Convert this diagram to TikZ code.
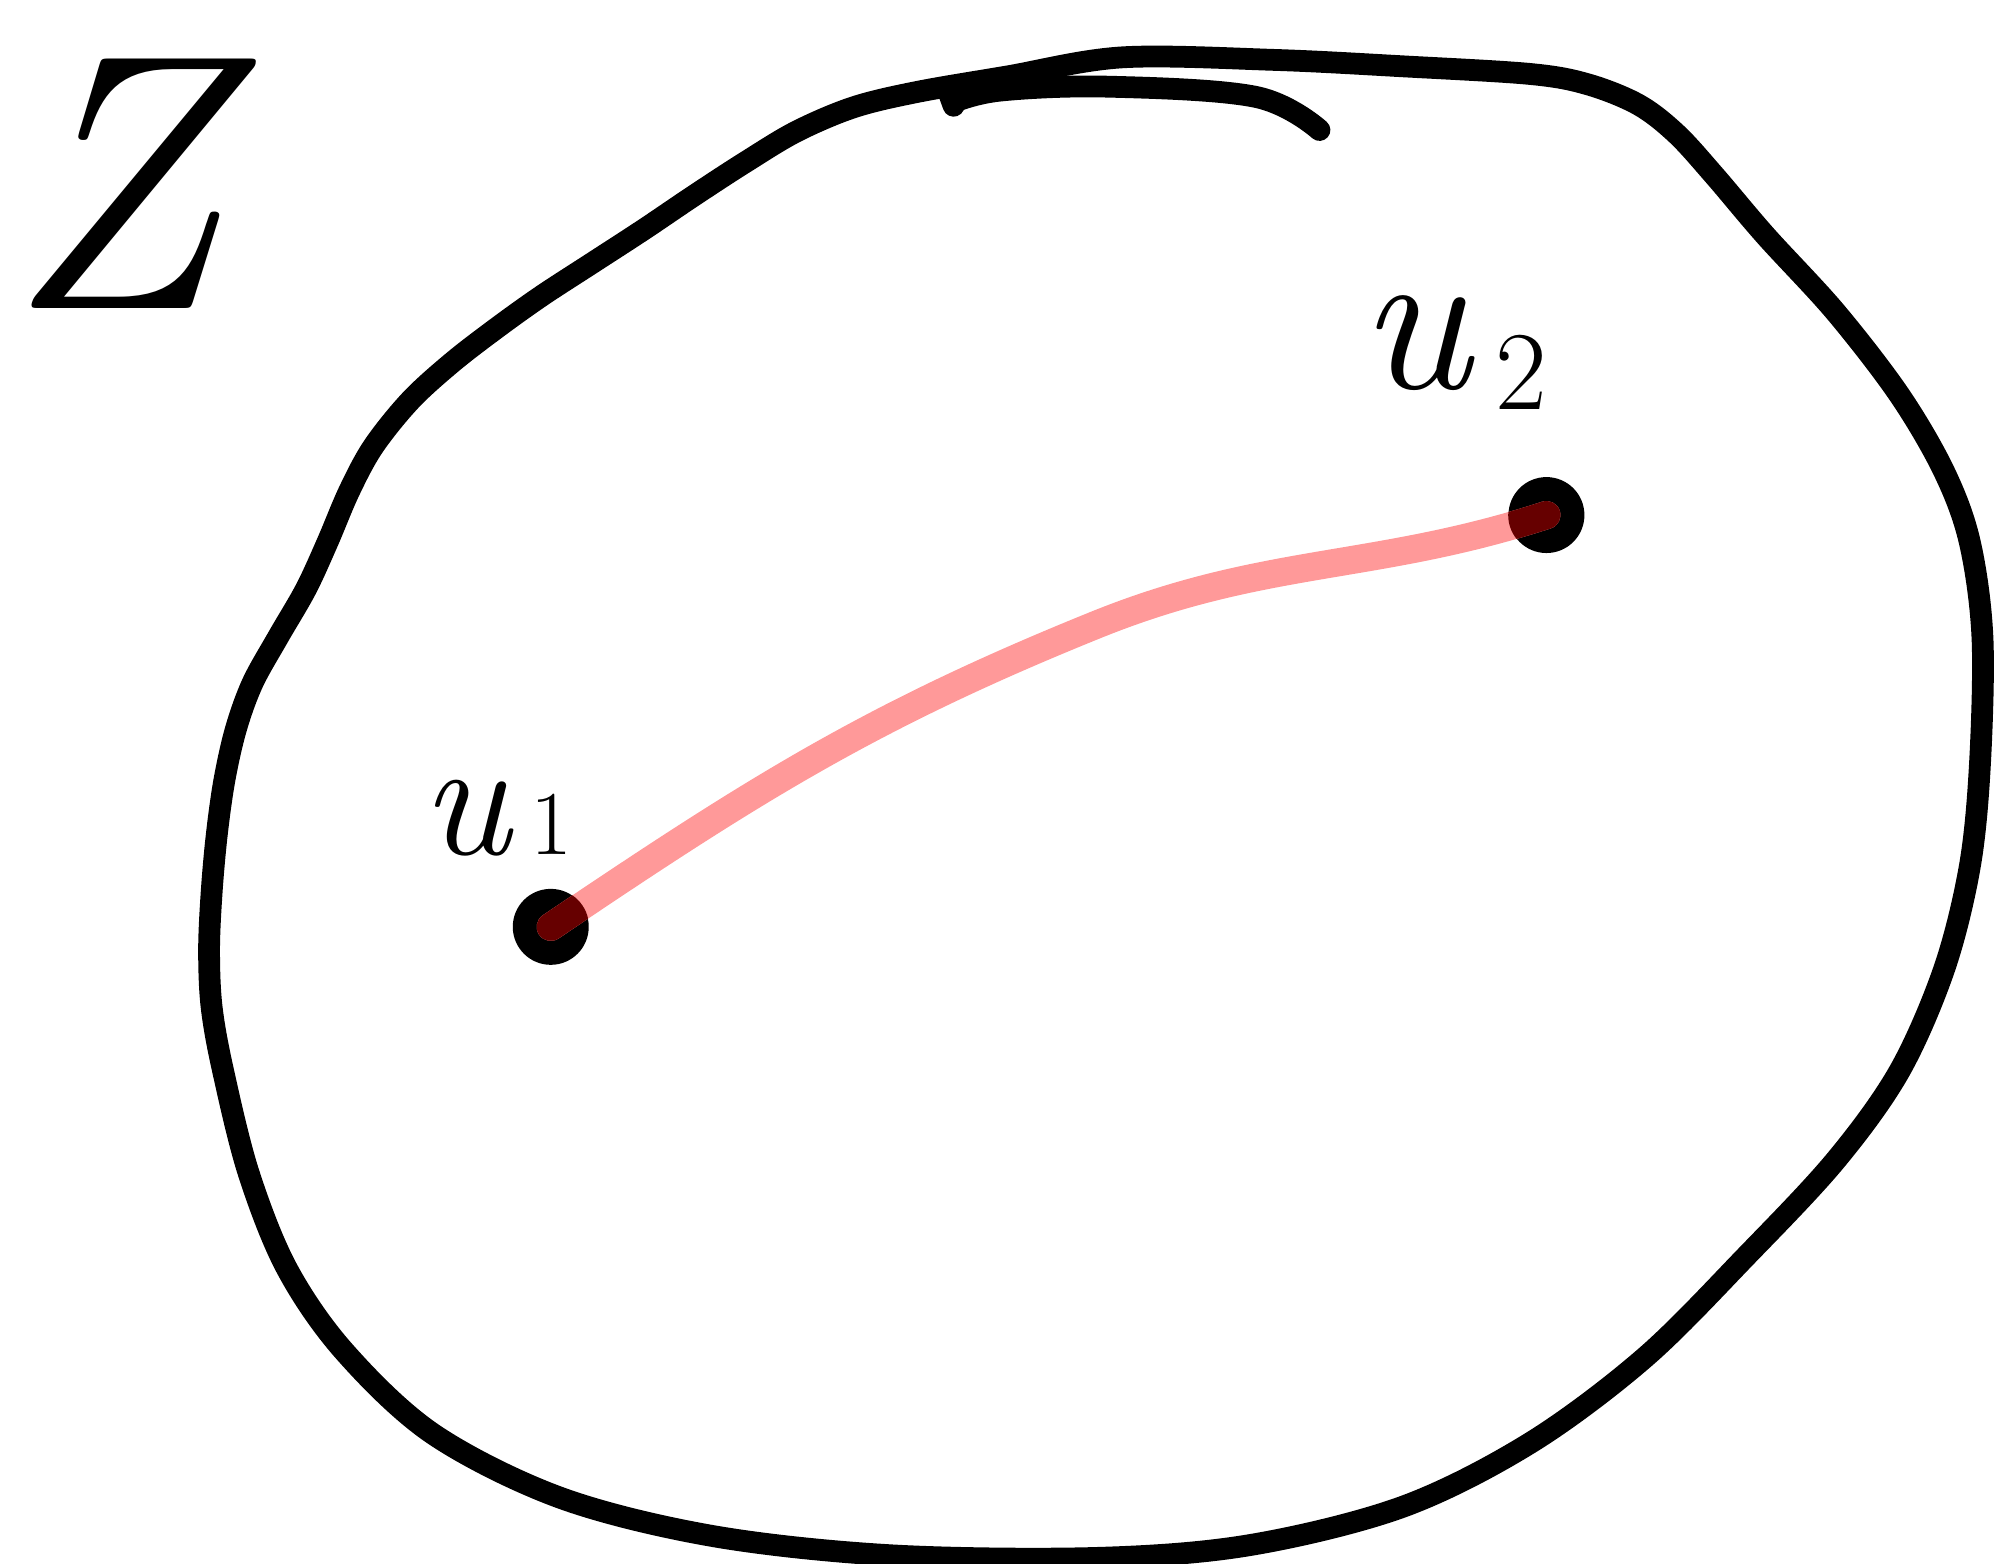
\documentclass[tikz,border=0pt]{standalone}
\usetikzlibrary{positioning}
\definecolor{pathpink}{HTML}{FF9999}
\definecolor{overlap}{HTML}{660000}
\begin{document}
\begin{tikzpicture}[x=0.012749cm,y=-0.012749cm,
  outline/.style={line width=6.2pt,line cap=round,line join=round},
  link/.style={line width=8pt,draw=pathpink,line cap=round},
  dot/.style={circle,fill=black,minimum size=7.6mm,inner sep=0pt},
  lbl/.style={anchor=base west,inner sep=0pt,font=\itshape}]
\useasboundingbox (0,0) rectangle (1568,1226);
% the region
\draw[outline] plot[smooth cycle,tension=0.55] coordinates {
  (880,45) (1000,47) (1100,52) (1200,58) (1245,66) (1285,82) (1315,105)
  (1345,138) (1385,185) (1440,245) (1490,310) (1525,370) (1545,425)
  (1555,500) (1553,600) (1545,680) (1525,760) (1490,840) (1440,910)
  (1370,985) (1290,1065) (1200,1132) (1100,1182) (980,1212) (860,1222)
  (700,1220) (560,1205) (440,1175) (340,1125) (270,1060) (225,995)
  (195,920) (175,840) (166,790) (164,745) (166,700) (170,655) (176,612)
  (185,572) (198,536) (218,500) (240,462) (257,425) (274,385) (293,350)
  (322,314) (355,284) (390,257) (425,232) (465,206) (505,180) (545,153)
  (585,127) (625,103) (670,84) (720,72) (790,60)};
\draw[outline] plot[smooth,tension=0.6] coordinates {
  (748,80) (785,71) (870,68) (985,76) (1035,102)};
\draw[outline] (744,72) -- (748,83);
% points and the path between them
\node[dot] (u1) at (432,727) {};
\node[dot] (u2) at (1213,404) {};
\coordinate (m) at (860,490);
\draw[link] (u1.center) to[out=34,in=202] (m) to[out=22,in=198] (u2.center);
\begin{scope}
  \clip (u1) circle[radius=30] (u2) circle[radius=30];
  \draw[link,draw=overlap] (u1.center) to[out=34,in=202] (m)
    to[out=22,in=198] (u2.center);
\end{scope}
\node[lbl,font=\fontsize{104}{104}\selectfont\itshape] (zlabel) at (2,242) {Z};
\node[lbl,font=\fontsize{48}{48}\selectfont\itshape] (u1label) at (330,670)
  {u\hspace{0.12em}{\fontsize{26}{26}\selectfont\upshape 1}};
\node[lbl,font=\fontsize{60}{60}\selectfont\itshape] (u2label) at (1066,305)
  {u\hspace{0.12em}\raisebox{-0.1em}{\fontsize{32}{32}\selectfont\upshape 2}};
\end{tikzpicture}
\end{document}
